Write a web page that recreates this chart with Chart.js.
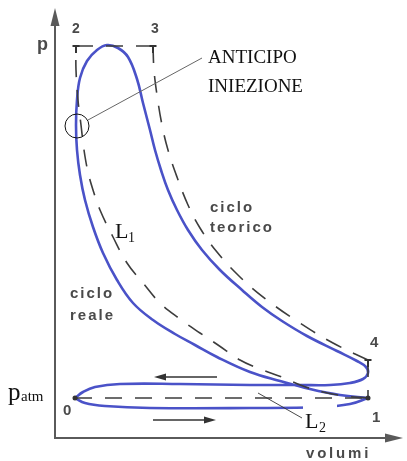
<!DOCTYPE html>
<html>
<head>
<meta charset="utf-8">
<script src="https://cdn.jsdelivr.net/npm/chart.js@4/dist/chart.umd.min.js"></script>
<style>
html,body{margin:0;padding:0;background:#fff;}
canvas{display:block;}
</style>
</head>
<body>
<canvas id="c" width="407" height="461"></canvas>
<script>
// ---- Data (volume V, pressure p in arbitrary units) ----
// Real cycle: intake stroke 0 -> 1
const intakeV = [20, 30, 50, 95, 195, 265, 295, 313];
const intakeP = [40, 35, 32, 30, 30, 31, 34, 40];

// Real cycle: compression 1 -> combustion -> expansion -> blow-down -> exhaust -> 0
const realV = [313, 285, 255, 225, 195, 162, 140, 120, 98, 78, 62, 48, 38, 30, 25, 22, 21, 22, 25, 32, 42, 52, 63, 73, 82, 88, 95, 100, 106, 113, 122, 133, 147, 165, 187, 207, 227, 252, 282, 302, 311, 313, 308, 295, 275, 245, 195, 125, 65, 40, 28, 20];
const realP = [40, 43, 49, 57, 66, 81, 93, 104, 118, 135, 158, 185, 211, 238, 263, 288, 313, 338, 360, 377, 388, 393, 390, 381, 359, 335, 308, 288, 268, 248, 228, 208, 188, 168, 148, 131, 117, 102, 87, 77, 71, 65, 59, 55, 53, 53, 53, 54, 54, 51, 46, 40];

// Theoretical cycle
const isobarV = [20, 313];          // 0 -> 1
const isobarP = [40, 40];
const compV = [313, 290, 268, 248, 227, 205, 185, 163, 145, 125, 105, 88, 72, 58, 45, 38, 33, 29, 26, 23, 21, 21]; // 1 -> 2
const compP = [40, 42, 46, 52, 61, 69, 78, 93, 105, 119, 135, 155, 175, 201, 228, 248, 266, 288, 313, 338, 368, 392];
const combV = [21, 98];             // 2 -> 3
const combP = [392, 392];
const expV = [98, 99, 102, 107, 113, 122, 133, 145, 162, 185, 212, 245, 278, 313]; // 3 -> 4
const expP = [392, 368, 343, 313, 288, 261, 233, 210, 186, 161, 138, 115, 95, 78];
const dischV = [313, 313];          // 4 -> 1
const dischP = [78, 40];

// Point labels
const pointNames = ['0', '1', '2', '3', '4'];
const pointV = [20, 313, 21, 98, 313];
const pointP = [40, 40, 392, 392, 78];

const pairs = (xs, ys) => xs.map((x, i) => ({x: x, y: ys[i]}));

const BLUE = '#4a52c8';
const DASH = '#3d3d3d';

const axesPlugin = {
  id: 'axesAndNotes',
  beforeDatasetsDraw(chart) {
    const {ctx, chartArea: a} = chart;
    ctx.save();
    ctx.strokeStyle = '#5a5a5a';
    ctx.fillStyle = '#5a5a5a';
    ctx.lineWidth = 2;
    ctx.beginPath();
    ctx.moveTo(a.left, a.top + 12);
    ctx.lineTo(a.left, a.bottom);
    ctx.lineTo(a.right - 12, a.bottom);
    ctx.stroke();
    ctx.beginPath();
    ctx.moveTo(a.left, a.top);
    ctx.lineTo(a.left - 4.5, a.top + 18);
    ctx.lineTo(a.left + 4.5, a.top + 18);
    ctx.closePath();
    ctx.fill();
    ctx.beginPath();
    ctx.moveTo(a.right, a.bottom);
    ctx.lineTo(a.right - 18, a.bottom - 4.5);
    ctx.lineTo(a.right - 18, a.bottom + 4.5);
    ctx.closePath();
    ctx.fill();
    ctx.restore();
  },
  afterDatasetsDraw(chart) {
    const {ctx} = chart;
    const xs = chart.scales.x, ys = chart.scales.y;
    const X = v => xs.getPixelForValue(v), Y = p => ys.getPixelForValue(p);
    ctx.save();

    ctx.fillStyle = '#333';
    [0, 1].forEach(i => {
      ctx.beginPath(); ctx.arc(X(pointV[i]), Y(pointP[i]), 2.5, 0, Math.PI*2); ctx.fill();
    });
    ctx.strokeStyle = '#333'; ctx.lineWidth = 2;
    [2,3,4].forEach(i => {
      ctx.beginPath();
      ctx.moveTo(X(pointV[i]) - 3.5, Y(pointP[i]));
      ctx.lineTo(X(pointV[i]) + 3.5, Y(pointP[i]));
      ctx.moveTo(X(pointV[i]), Y(pointP[i]));
      ctx.lineTo(X(pointV[i]), Y(pointP[i]) + 7);
      ctx.stroke();
    });

    ctx.fillStyle = '#4a4a4a';
    ctx.textBaseline = 'alphabetic';
    ctx.textAlign = 'left';
    ctx.font = 'bold 18px "Liberation Sans", Arial, sans-serif';
    ctx.fillText('p', 37, 50);
    ctx.font = 'bold 14px "Liberation Sans", Arial, sans-serif';
    ctx.fillText(pointNames[2], X(pointV[2]) - 4, Y(pointP[2]) - 13);
    ctx.fillText(pointNames[3], X(pointV[3]) - 2, Y(pointP[3]) - 13);
    ctx.font = 'bold 15px "Liberation Sans", Arial, sans-serif';
    ctx.fillText(pointNames[4], X(pointV[4]) + 2, Y(pointP[4]) - 13);
    ctx.fillText(pointNames[0], X(pointV[0]) - 12, Y(pointP[0]) + 17);
    ctx.fillText(pointNames[1], X(pointV[1]) + 4, Y(pointP[1]) + 24);
    ctx.letterSpacing = '2.8px';
    ctx.font = 'bold 15px "Liberation Sans", Arial, sans-serif';
    ctx.fillText('volumi', 306, 458);
    ctx.letterSpacing = '2px';
    ctx.fillText('ciclo', 210, 212);
    ctx.fillText('teorico', 210, 232);
    ctx.fillText('ciclo', 70, 298);
    ctx.fillText('reale', 70, 320);
    ctx.letterSpacing = '0px';

    ctx.strokeStyle = '#333'; ctx.fillStyle = '#333'; ctx.lineWidth = 1.3;
    ctx.beginPath(); ctx.moveTo(217, 377); ctx.lineTo(163, 377); ctx.stroke();
    ctx.beginPath(); ctx.moveTo(154, 377); ctx.lineTo(166, 373.5); ctx.lineTo(166, 380.5); ctx.closePath(); ctx.fill();
    ctx.beginPath(); ctx.moveTo(153, 420); ctx.lineTo(207, 420); ctx.stroke();
    ctx.beginPath(); ctx.moveTo(216, 420); ctx.lineTo(204, 416.5); ctx.lineTo(204, 423.5); ctx.closePath(); ctx.fill();

    ctx.strokeStyle = '#111'; ctx.lineWidth = 1;
    ctx.beginPath(); ctx.arc(77, 126, 12, 0, Math.PI*2); ctx.stroke();
    ctx.strokeStyle = '#666';
    ctx.beginPath(); ctx.moveTo(88, 120); ctx.lineTo(202, 58); ctx.stroke();
    ctx.fillStyle = '#111';
    ctx.font = '19px "Liberation Serif", "Times New Roman", serif';
    ctx.fillText('ANTICIPO', 208, 63);
    ctx.fillText('INIEZIONE', 208, 92);

    ctx.font = '25px "Liberation Serif", "Times New Roman", serif';
    ctx.fillText('p', 8, 400);
    ctx.font = '15px "Liberation Serif", "Times New Roman", serif';
    ctx.fillText('atm', 21, 401);

    ctx.font = '22px "Liberation Serif", "Times New Roman", serif';
    ctx.fillText('L', 115, 238);
    ctx.font = '14px "Liberation Serif", "Times New Roman", serif';
    ctx.fillText('1', 128, 242);

    ctx.fillStyle = '#fff';
    ctx.fillRect(303, 403, 34, 31);
    ctx.strokeStyle = '#333'; ctx.lineWidth = 0.9;
    ctx.beginPath(); ctx.moveTo(258, 393); ctx.lineTo(302, 418); ctx.stroke();
    ctx.fillStyle = '#111';
    ctx.font = '22px "Liberation Serif", "Times New Roman", serif';
    ctx.fillText('L', 305, 428);
    ctx.font = '14px "Liberation Serif", "Times New Roman", serif';
    ctx.fillText('2', 319, 432);

    ctx.restore();
  }
};

const dashed = (data, tension) => ({
  data: data, borderColor: DASH, borderWidth: 1.6, borderDash: [17, 13],
  tension: tension, showLine: true, pointRadius: 0, fill: false, clip: false
});

new Chart(document.getElementById('c'), {
  type: 'scatter',
  data: {
    datasets: [
      dashed(pairs(isobarV, isobarP), 0),
      dashed(pairs(compV, compP), 0.4),
      dashed(pairs(combV, combP), 0),
      dashed(pairs(expV, expP), 0.4),
      dashed(pairs(dischV, dischP), 0),
      { data: pairs(intakeV, intakeP), borderColor: BLUE, borderWidth: 2.6, tension: 0.4,
        showLine: true, pointRadius: 0, fill: false, clip: false },
      { data: pairs(realV, realP), borderColor: BLUE, borderWidth: 2.6, tension: 0.4,
        showLine: true, pointRadius: 0, fill: false, clip: false }
    ]
  },
  options: {
    responsive: false,
    animation: false,
    devicePixelRatio: 1,
    layout: { padding: { left: 55, top: 8, right: 4, bottom: 23 } },
    scales: {
      x: { type: 'linear', display: false, min: 0, max: 348 },
      y: { type: 'linear', display: false, min: 0, max: 430 }
    },
    plugins: { legend: { display: false }, tooltip: { enabled: false } }
  },
  plugins: [axesPlugin]
});
</script>
</body>
</html>
